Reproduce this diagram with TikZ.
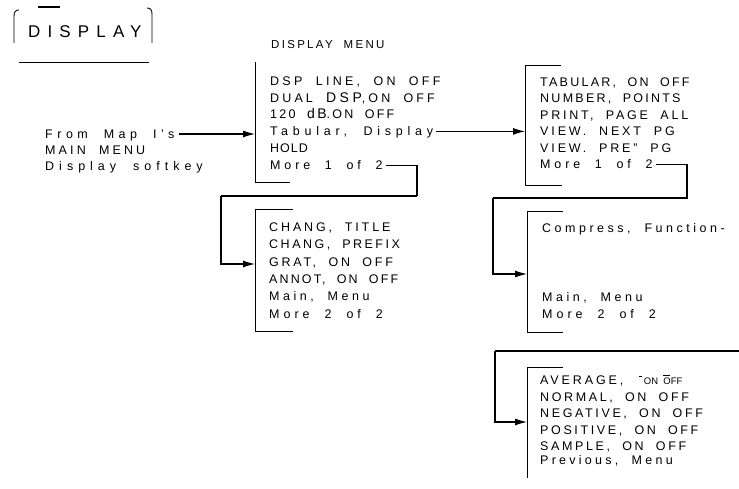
\documentclass[tikz,border=0pt]{standalone}
\usepackage{fontspec}
\setmainfont{Liberation Sans}[LetterSpace=23,WordSpace=2]
\usetikzlibrary{arrows.meta,calc}
\newcommand\lsp[1]{\addfontfeature{LetterSpace=#1}}
\tikzset{
  txt/.style={inner sep=0pt, anchor=west, text height=9pt, text depth=0pt,
    font=\fontsize{12.5}{15}\selectfont},
  brk/.style={line width=0.9pt},
  con/.style={line width=1.1pt},
  heavy/.style={line width=2.2pt},
  arr/.style={con, -{Latex[length=12pt,width=7pt]}},
}
\begin{document}
\begin{tikzpicture}[x=1pt,y=-1pt]
\useasboundingbox[fill=white] (0,0) rectangle (739,489);
% hard key
\node[inner sep=0pt, anchor=west, text height=12pt, text depth=0pt,
  font=\fontsize{17}{20}\selectfont\addfontfeature{LetterSpace=42}] (key) at (28,31.5) {DISPLAY};
\draw[brk] (19,10) .. controls (15.5,10) and (14,12) .. (14,16) -- (14,43);
\draw[brk] (147,8) .. controls (150.5,8) and (152,10) .. (152,14) -- (152,43);
\draw[line width=1.5pt] (38,7) -- (60,7);
\draw[brk] (19,62) -- (149,62);
% menu title
\node[txt, font=\fontsize{11.5}{14}\selectfont\addfontfeature{LetterSpace=20}] (mtitle) at (271,44) {DISPLAY MENU};
% note at left
\node[txt] (n1) at (45,134) {\lsp{36}From Map I's};
\node[txt] (n2) at (45,150) {\lsp{25}MAIN MENU};
\node[txt] (n3) at (45,166) {\lsp{40}Display softkey};
% box 1
\coordinate (b1t) at (255,62);
\coordinate (b1b) at (255,182);
\draw[brk] (b1t) -- (b1b) -- ++(35,0);
\node[txt] (a1) at (270,80.7) {\lsp{26}DSP LINE, ON OFF};
\node[txt] (a2) at (270,97.6) {\lsp{25}DUAL {\fontsize{14}{15}\selectfont DSP},ON OFF};
\node[txt] (a3) at (270,114.5) {\lsp{18}120 {\fontsize{14}{15}\selectfont dB}.ON OFF};
\node[txt] (a4) at (270,131.4) {\lsp{38}Tabular, Display};
\node[txt] (a5) at (270,148.3) {\lsp{8}HOLD};
\node[txt] (a6) at (270,165.2) {\lsp{31}More 1 of 2};
% box 2
\coordinate (b2t) at (255,209);
\coordinate (b2b) at (255,331);
\coordinate (b2in) at (255,264);
\draw[brk] ($(b2t)+(38,0)$) -- (b2t) -- (b2b) -- ++(38,0);
\node[txt] (d1) at (269,227) {\lsp{23}CHANG, TITLE};
\node[txt] (d2) at (269,244.3) {\lsp{20}CHANG, PREFIX};
\node[txt] (d3) at (269,261.6) {\lsp{22}GRAT, ON OFF};
\node[txt] (d4) at (269,278.9) {\lsp{17}ANNOT, ON OFF};
\node[txt] (d5) at (269,296.2) {\lsp{28}Main, Menu};
\node[txt] (d6) at (269,313.5) {\lsp{32}More 2 of 2};
% box 3
\coordinate (b3t) at (525,65);
\coordinate (b3b) at (525,185);
\draw[brk] ($(b3t)+(36,0)$) -- (b3t) -- (b3b) -- ++(37,0);
\node[txt] (c1) at (540,82) {\lsp{18}TABULAR, ON OFF};
\node[txt] (c2) at (540,98.5) {\lsp{18}NUMBER, POINTS};
\node[txt] (c3) at (540,115) {\lsp{22}PRINT, PAGE ALL};
\node[txt] (c4) at (540,131.5) {\lsp{23}VIEW. NEXT PG};
\node[txt] (c5) at (540,148) {\lsp{23}VIEW. PRE" PG};
\node[txt] (c6) at (540,164.5) {\lsp{31}More 1 of 2};
% box 4
\coordinate (b4t) at (527,211);
\coordinate (b4b) at (527,332);
\coordinate (b4in) at (527,274);
\draw[brk] ($(b4t)+(36,0)$) -- (b4t) -- (b4b) -- ++(36,0);
\node[txt] (e1) at (542,228) {\lsp{28}Compress, Function-};
\node[txt] (e2) at (542,297) {\lsp{28}Main, Menu};
\node[txt] (e3) at (542,314) {\lsp{32}More 2 of 2};
% box 5
\coordinate (b5t) at (527,367);
\coordinate (b5b) at (527,478);
\coordinate (b5in) at (527,422);
\draw[brk] ($(b5t)+(36,0)$) -- (b5t) -- (b5b);
\node[txt] (g1) at (540,380) {\lsp{23}AVERAGE,\hspace{16pt}{\fontsize{9.5}{10}\selectfont\lsp{0}\raisebox{8pt}{\rule{3pt}{0.9pt}}\,ON \rlap{\raisebox{9pt}{\rule{7pt}{0.9pt}}}OFF}};
\node[txt] (g2) at (540,396.5) {\lsp{21}NORMAL, ON OFF};
\node[txt] (g3) at (540,413) {\lsp{21}NEGATIVE, ON OFF};
\node[txt] (g4) at (540,429.5) {\lsp{21}POSITIVE, ON OFF};
\node[txt] (g5) at (540,446) {\lsp{21}SAMPLE, ON OFF};
\node[txt] (g6) at (540,460) {\lsp{26}Previous, Menu};
% connectors
\coordinate (j1) at (417,196);
\coordinate (j2) at (221,196);
\coordinate (j3) at (687,198);
\coordinate (j4) at (493,198);
\coordinate (j5) at (495,351);
\coordinate (j6) at (739,351);
\draw[arr] ([xshift=4pt]n1.east) -- (n1.east -| b1t);
\draw[arr] ([xshift=3pt]a4.east) -- (a4.east -| b3t);
\draw[con] ([xshift=3pt]a6.east) -| (j1);
\draw[heavy] (j1) -- (j2);
\draw[arr] (j2) |- (b2in);
\draw[con] ([xshift=3pt]c6.east) -| (j3) -- (j4);
\draw[arr] (j4) |- (b4in);
\draw[heavy] (j6) -- (j5);
\draw[arr] (j5) |- (b5in);
\end{tikzpicture}
\end{document}
